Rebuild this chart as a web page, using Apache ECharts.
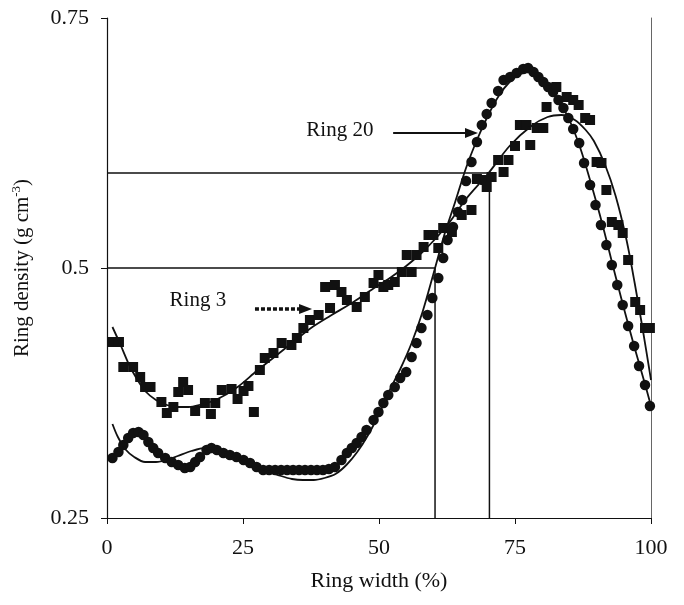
<!DOCTYPE html>
<html>
<head>
<meta charset="utf-8">
<script src="https://cdn.jsdelivr.net/npm/echarts@6/dist/echarts.min.js"></script>
<style>
  html, body { margin: 0; padding: 0; background: #fff; }
  #main { width: 684px; height: 605px; }
</style>
</head>
<body>
<div id="main"></div>
<script>
// Ring 3 (squares)
const ring3X = [
  1.0, 2.2, 3.0, 4.8, 6.1, 7.0, 8.0, 10.0, 11.0, 12.2,
  13.1, 14.0, 14.9, 16.2, 18.0, 19.1, 19.9, 21.1, 22.9, 24.0,
  25.1, 26.0, 27.0, 28.1, 29.0, 30.6, 32.1, 33.9, 34.9, 36.1,
  37.3, 38.9, 40.1, 41.0, 41.9, 43.1, 44.1, 45.9, 47.4, 49.0,
  49.9, 50.8, 51.7, 52.9, 54.2, 55.1, 56.0, 56.9, 58.2, 59.1,
  60.0, 60.9, 61.8, 63.4, 65.2, 67.0, 68.0, 69.5, 69.8, 70.7,
  71.9, 72.9, 73.8, 75.0, 75.9, 77.1, 77.8, 79.0, 80.2, 80.8,
  82.6, 84.5, 85.7, 86.7, 87.9, 88.8, 90.0, 90.9, 91.8, 92.8,
  94.0, 94.8, 95.8, 97.1, 98.0, 98.9, 99.8
];
const ring3Y = [
  0.426, 0.426, 0.401, 0.401, 0.391, 0.381, 0.381, 0.366, 0.355, 0.361,
  0.376, 0.386, 0.378, 0.357, 0.365, 0.354, 0.365, 0.378, 0.379, 0.369,
  0.377, 0.382, 0.356, 0.398, 0.410, 0.415, 0.425, 0.423, 0.430, 0.440,
  0.448, 0.453, 0.481, 0.460, 0.483, 0.476, 0.468, 0.461, 0.471, 0.485,
  0.493, 0.481, 0.483, 0.486, 0.496, 0.513, 0.496, 0.513, 0.521, 0.533,
  0.533, 0.520, 0.540, 0.536, 0.553, 0.558, 0.589, 0.588, 0.581, 0.591,
  0.608, 0.596, 0.608, 0.622, 0.643, 0.643, 0.623, 0.640, 0.640, 0.661,
  0.681, 0.671, 0.668, 0.663, 0.650, 0.648, 0.606, 0.605, 0.578, 0.546,
  0.543, 0.535, 0.508, 0.466, 0.458, 0.440, 0.440
];

// Ring 20 (circles)
const ring20X = [
  1.0, 2.1, 3.0, 3.9, 4.8, 5.8, 6.7, 7.6, 8.5, 9.4,
  10.7, 11.9, 13.1, 14.3, 15.3, 16.2, 17.1, 18.3, 19.2, 20.2,
  21.4, 22.6, 23.8, 25.1, 26.3, 27.5, 28.7, 29.8, 30.9, 32.0,
  33.1, 34.2, 35.3, 36.4, 37.5, 38.6, 39.7, 40.8, 41.9, 43.1,
  44.1, 45.0, 45.9, 46.8, 47.7, 49.0, 49.9, 50.8, 51.7, 52.9,
  53.9, 55.0, 56.0, 56.9, 57.8, 58.9, 59.8, 60.9, 61.8, 62.6,
  63.6, 64.5, 65.3, 66.0, 67.0, 68.0, 68.9, 69.8, 70.7, 71.9,
  72.9, 74.1, 75.3, 76.5, 77.4, 78.4, 79.3, 80.2, 81.1, 82.0,
  83.0, 83.9, 84.8, 85.7, 86.8, 87.7, 88.8, 89.8, 90.8, 91.8,
  92.8, 93.8, 94.8, 95.8, 96.9, 97.8, 98.9, 99.8
];
const ring20Y = [
  0.310, 0.316, 0.323, 0.330, 0.335, 0.336, 0.333, 0.326, 0.320, 0.315,
  0.310, 0.306, 0.303, 0.300, 0.301, 0.306, 0.311, 0.318, 0.320, 0.318,
  0.315, 0.313, 0.311, 0.308, 0.305, 0.301, 0.298, 0.298, 0.298, 0.298,
  0.298, 0.298, 0.298, 0.298, 0.298, 0.298, 0.298, 0.299, 0.301, 0.308,
  0.315, 0.320, 0.325, 0.331, 0.338, 0.348, 0.356, 0.365, 0.373, 0.381,
  0.390, 0.396, 0.411, 0.425, 0.440, 0.453, 0.470, 0.490, 0.510, 0.528,
  0.541, 0.556, 0.568, 0.587, 0.606, 0.626, 0.643, 0.654, 0.665, 0.677,
  0.688, 0.691, 0.695, 0.699, 0.700, 0.696, 0.691, 0.686, 0.681, 0.676,
  0.668, 0.660, 0.650, 0.639, 0.625, 0.605, 0.583, 0.563, 0.543, 0.523,
  0.503, 0.483, 0.463, 0.442, 0.422, 0.402, 0.383, 0.362
];

// fitted curves
const ring3FitX = [1, 2.5, 4, 5.5, 7, 9, 11, 13, 15, 17, 20, 24, 27.5, 31, 34, 37.5, 41, 45, 48, 52,
  55, 58, 61, 63, 66, 70, 74, 78, 81, 83.5, 86, 88, 89.5, 91.5, 93.5, 95.5, 97, 98.5, 100];
const ring3FitY = [0.441, 0.423, 0.404, 0.389, 0.377, 0.368, 0.363, 0.361, 0.361, 0.363, 0.368, 0.381, 0.397, 0.412, 0.425, 0.440, 0.452, 0.465, 0.476, 0.490,
  0.502, 0.516, 0.533, 0.546, 0.569, 0.594, 0.622, 0.642, 0.651, 0.653, 0.648, 0.638, 0.627, 0.604, 0.572, 0.528, 0.485, 0.438, 0.388];

const ring20FitX = [1, 2, 3.5, 5, 7, 9, 11, 13, 15.5, 18, 20, 22, 24, 26, 28, 30, 32, 34, 36, 38,
  40, 42, 44, 46, 48, 50, 52, 54, 56, 58, 60, 62, 64, 66, 68, 70, 72, 74, 76, 77.5,
  79, 81, 83, 85, 87, 89, 91, 93, 95, 97, 99, 100];
const ring20FitY = [0.344, 0.331, 0.318, 0.311, 0.306, 0.306, 0.308, 0.312, 0.317, 0.320, 0.319, 0.315, 0.310, 0.305, 0.300, 0.296, 0.292, 0.289, 0.288, 0.288,
  0.290, 0.294, 0.303, 0.316, 0.333, 0.354, 0.378, 0.400, 0.425, 0.456, 0.494, 0.533, 0.566, 0.600, 0.628, 0.652, 0.672, 0.686, 0.694, 0.696,
  0.692, 0.683, 0.668, 0.648, 0.620, 0.584, 0.545, 0.502, 0.460, 0.420, 0.382, 0.362];

// reference drop lines
const refX = [60.3, 70.3];
const refY = [0.5, 0.595];

// annotations: label text, label position, arrow start/end (arrow head sits at end)
const noteText = ['Ring 20', 'Ring 3'];
const notePos = [[42.8, 0.638], [16.7, 0.468]];
const arrowFrom = [[52.6, 0.635], [27.2, 0.459]];
const arrowTo = [[67.0, 0.635], [36.5, 0.459]];

const xTicks = [0, 25, 50, 75, 100];
const yTicks = [0.25, 0.5, 0.75];

const font = 'Liberation Serif';
const ink = '#111';

function zip(xs, ys) {
  return xs.map(function (x, i) { return [x, ys[i]]; });
}

const refSeries = refX.map(function (x, i) {
  return {
    type: 'line',
    data: [[xTicks[0], refY[i]], [x, refY[i]], [x, yTicks[0]]],
    showSymbol: false,
    silent: true,
    lineStyle: { color: ink, width: 1.5 },
    z: 1
  };
});

const arrowStyles = [
  { color: ink, width: 2.2, type: 'solid' },
  { color: ink, width: 3.5, type: [4, 2] }
];
const arrowSeries = arrowFrom.map(function (p, i) {
  return {
    type: 'line',
    data: [p, arrowTo[i]],
    showSymbol: false,
    silent: true,
    lineStyle: arrowStyles[i],
    z: 4
  };
});

const chart = echarts.init(document.getElementById('main'));
chart.setOption({
  animation: false,
  backgroundColor: '#fff',
  grid: { left: 107, right: 33, top: 18, bottom: 87, outerBoundsMode: 'none', containLabel: false },
  xAxis: {
    type: 'value',
    min: 0, max: 100, interval: 25,
    name: 'Ring width (%)',
    nameLocation: 'middle',
    nameGap: 52,
    nameTextStyle: { fontFamily: font, fontSize: 22, color: ink },
    axisLine: { lineStyle: { color: ink, width: 1.2 } },
    axisTick: { length: 6, lineStyle: { color: ink } },
    axisLabel: { margin: 19, fontFamily: font, fontSize: 22, color: ink },
    splitLine: { show: false }
  },
  yAxis: [{
    type: 'value',
    min: 0.25, max: 0.75, interval: 0.25,
    name: 'Ring density (g cm{sup|-3})',
    nameLocation: 'middle',
    nameGap: 73,
    nameTextStyle: {
      fontFamily: font, fontSize: 21, color: ink, lineHeight: 24,
      rich: { sup: { fontFamily: font, fontSize: 13, color: ink, verticalAlign: 'top', lineHeight: 14 } }
    },
    axisLine: { show: true, lineStyle: { color: ink, width: 1.2 } },
    axisTick: { length: 6, lineStyle: { color: ink } },
    axisLabel: { margin: 18, fontFamily: font, fontSize: 22, color: ink },
    splitLine: { show: false }
  }, {
    type: 'value',
    position: 'right',
    min: 0.25, max: 0.75, interval: 0.25,
    axisLine: { show: true, lineStyle: { color: '#666', width: 1 } },
    axisTick: { show: false },
    axisLabel: { show: false },
    splitLine: { show: false }
  }],
  series: refSeries.concat(arrowSeries, [
    {
      name: 'Ring 20',
      type: 'scatter',
      symbol: 'circle',
      symbolSize: 10.5,
      itemStyle: { color: ink, opacity: 1 },
      data: zip(ring20X, ring20Y),
      z: 2
    },
    {
      name: 'Ring 3',
      type: 'scatter',
      symbol: 'rect',
      symbolSize: 10,
      itemStyle: { color: ink, opacity: 1 },
      data: zip(ring3X, ring3Y),
      z: 2
    },
    {
      type: 'line',
      data: zip(ring20FitX, ring20FitY),
      smooth: 0.3,
      showSymbol: false,
      lineStyle: { color: ink, width: 1.8 },
      z: 3
    },
    {
      type: 'line',
      data: zip(ring3FitX, ring3FitY),
      smooth: 0.3,
      showSymbol: false,
      lineStyle: { color: ink, width: 1.8 },
      z: 3
    },
    {
      // arrow heads
      type: 'scatter',
      symbol: 'triangle',
      symbolRotate: -90,
      symbolSize: [10, 13],
      silent: true,
      itemStyle: { color: ink, opacity: 1 },
      data: arrowTo,
      z: 5
    },
    {
      // annotation labels
      type: 'scatter',
      symbolSize: 0,
      silent: true,
      itemStyle: { color: ink, opacity: 1 },
      label: {
        show: true, position: 'inside',
        fontFamily: font, fontSize: 21, color: ink, opacity: 1,
        formatter: function (p) { return noteText[p.dataIndex]; }
      },
      data: notePos,
      z: 5
    }
  ])
});
</script>
</body>
</html>
